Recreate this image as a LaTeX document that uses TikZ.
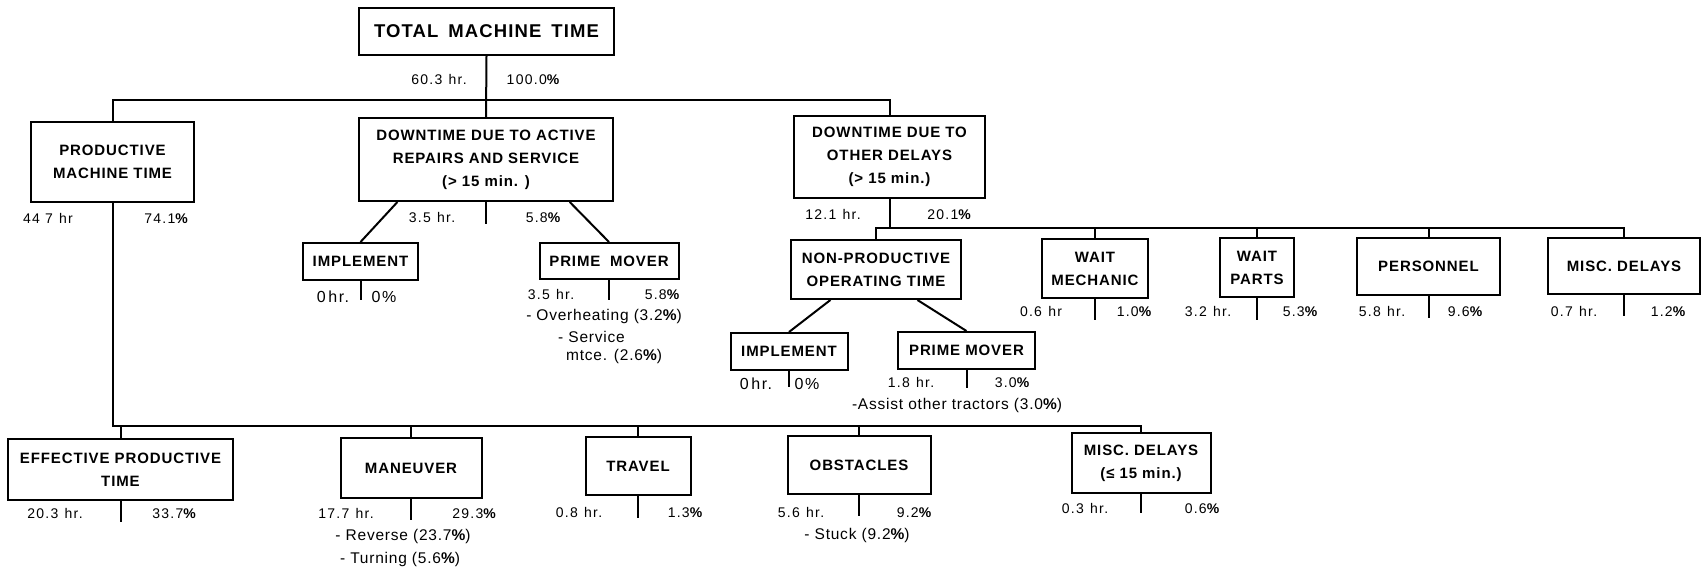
\documentclass[tikz,border=0pt]{standalone}
\usepackage{fontspec}
\setmainfont{Liberation Sans}
\newfontfamily\boxfont{Liberation Sans}[LetterSpace=6]
\newfontfamily\totfont{Liberation Sans}[LetterSpace=6]
\newfontfamily\numfont{Liberation Sans}[LetterSpace=9]
\newfontfamily\descfont{Liberation Sans}[LetterSpace=5]
\usetikzlibrary{calc}
\newcommand\mypc{{\bfseries\%}}
\newcommand\hrgap{\hspace{0.45em}}
\tikzset{
  bx/.style={draw, line width=2pt, inner sep=0pt, align=center,
    font=\boxfont\bfseries\fontsize{15}{23}\selectfont},
  lb/.style={inner sep=0pt, text height=10pt, text depth=3pt,
    font=\numfont\fontsize{14}{18}\selectfont},
  ds/.style={inner sep=0pt, text height=11pt, text depth=3.5pt,
    font=\descfont\fontsize{15.5}{18}\selectfont},
  lbig/.style={lb, font=\numfont\fontsize{16}{20}\selectfont},
  ln/.style={line width=2pt},
}
\begin{document}
\begin{tikzpicture}[x=1pt,y=-1pt]
\useasboundingbox (0,0) rectangle (1701,571);
% boxes
\node[bx, minimum width=255pt, minimum height=47pt, font=\totfont\bfseries\fontsize{18.5}{23}\selectfont] (total) at (486.5,31.5) {TOTAL\hspace{0.2em} MACHINE\hspace{0.2em} TIME};
\node[bx, minimum width=163pt, minimum height=80pt] (prod) at (112.5,162) {PRODUCTIVE\\MACHINE TIME};
\node[bx, minimum width=254pt, minimum height=83pt] (active) at (486,159.5) {DOWNTIME DUE TO ACTIVE\\REPAIRS AND SERVICE\\(> 15 min. )};
\node[bx, minimum width=191pt, minimum height=82pt] (other) at (889.5,157) {DOWNTIME DUE TO\\OTHER DELAYS\\(> 15 min.)};
\node[bx, minimum width=115pt, minimum height=37pt] (impl1) at (360.5,261.5) {IMPLEMENT};
\node[bx, minimum width=139pt, minimum height=36pt] (pm1) at (609,261) {PRIME\hspace{0.3em} MOVER};
\node[bx, minimum width=170pt, minimum height=59pt] (nonprod) at (876,269.5) {NON-PRODUCTIVE\\OPERATING TIME};
\node[bx, minimum width=106pt, minimum height=59pt] (waitmech) at (1095,268.5) {WAIT\\MECHANIC};
\node[bx, minimum width=74pt, minimum height=59pt] (waitparts) at (1257,267.5) {WAIT\\PARTS};
\node[bx, minimum width=143pt, minimum height=57pt] (personnel) at (1428.5,266.5) {PERSONNEL};
\node[bx, minimum width=152pt, minimum height=56pt] (misc1) at (1624,266) {MISC. DELAYS};
\node[bx, minimum width=117pt, minimum height=37pt] (impl2) at (789,351.5) {IMPLEMENT};
\node[bx, minimum width=137pt, minimum height=37pt] (pm2) at (966.5,350.5) {PRIME MOVER};
\node[bx, minimum width=225pt, minimum height=61pt] (eff) at (120.5,469.5) {EFFECTIVE PRODUCTIVE\\TIME};
\node[bx, minimum width=141pt, minimum height=60pt] (maneuver) at (411,468) {MANEUVER};
\node[bx, minimum width=105pt, minimum height=58pt] (travel) at (638,466) {TRAVEL};
\node[bx, minimum width=143pt, minimum height=58pt] (obstacles) at (859,465) {OBSTACLES};
\node[bx, minimum width=139pt, minimum height=60pt] (misc2) at (1141,463) {MISC. DELAYS\\(≤ 15 min.)};
% bus coordinates
\coordinate (bus1) at (486,99.5);
\coordinate (bus2) at (889.5,228);
\coordinate (bus3) at (500,426);
% connectors
\draw[ln] (total.south) -- (active.north);
\draw[ln] (prod.north) |- (bus1) -| (other.north);
\draw[ln] (other.south) -- (bus2);
\draw[ln] (nonprod.north) |- (bus2) -| (misc1.north);
\draw[ln] (waitmech.north) -- (waitmech.north |- bus2);
\draw[ln] (waitparts.north) -- (waitparts.north |- bus2);
\draw[ln] (personnel.north) -- (personnel.north |- bus2);
\draw[ln] (prod.south) |- (bus3) -| (misc2.north);
\draw[ln] (eff.north) -- (eff.north |- bus3);
\draw[ln] (maneuver.north) -- (maneuver.north |- bus3);
\draw[ln] (travel.north) -- (travel.north |- bus3);
\draw[ln] (obstacles.north) -- (obstacles.north |- bus3);
\draw[ln] ($(active.south west)!0.154!(active.south east)$) -- (impl1.north);
\draw[ln] ($(active.south west)!0.827!(active.south east)$) -- (pm1.north);
\draw[ln] ($(nonprod.south west)!0.235!(nonprod.south east)$) -- (impl2.north);
\draw[ln] ($(nonprod.south west)!0.741!(nonprod.south east)$) -- (pm2.north);
% ticks
\coordinate (tActive) at (486,224);
\coordinate (tImpl1) at (360.5,300);
\coordinate (tPm1) at (609,300);
\coordinate (tWm) at (1095,320);
\coordinate (tWp) at (1257,320);
\coordinate (tPers) at (1428.5,318);
\coordinate (tMisc1) at (1624,316);
\coordinate (tImpl2) at (789,387);
\coordinate (tPm2) at (966.5,388);
\coordinate (tEff) at (120.5,522);
\coordinate (tMan) at (411,520);
\coordinate (tTrav) at (638,518);
\coordinate (tObs) at (859,516);
\coordinate (tMisc2) at (1141,513);
\draw[ln] (active.south) -- (tActive);
\draw[ln] (impl1.south) -- (tImpl1);
\draw[ln] (pm1.south) -- (tPm1);
\draw[ln] (waitmech.south) -- (tWm);
\draw[ln] (waitparts.south) -- (tWp);
\draw[ln] (personnel.south) -- (tPers);
\draw[ln] (misc1.south) -- (tMisc1);
\draw[ln] (impl2.south) -- (tImpl2);
\draw[ln] (pm2.south) -- (tPm2);
\draw[ln] (eff.south) -- (tEff);
\draw[ln] (maneuver.south) -- (tMan);
\draw[ln] (travel.south) -- (tTrav);
\draw[ln] (obstacles.south) -- (tObs);
\draw[ln] (misc2.south) -- (tMisc2);
% labels
\node[lb] (a1) at (439,81) {60.3\hrgap hr.};
\node[lb] (a2) at (533,81) {100.0\mypc};
\node[lb] (b1) at (48,220) {44 7\hrgap hr};
\node[lb] (b2) at (166,220) {74.1\mypc};
\node[lb] (c1) at (432,219) {3.5\hrgap hr.};
\node[lb] (c2) at (543,219) {5.8\mypc};
\node[lbig] (d1) at (333,299) {0\,hr.};
\node[lbig] (d2) at (384,299) {0\%};
\node[lb] (e1) at (551,296) {3.5\hrgap hr.};
\node[lb] (e2) at (662,296) {5.8\mypc};
\node[ds] (e3) at (604,317) {- Overheating (3.2\mypc)};
\node[ds, anchor=west] (e4) at (558,339) {- Service};
\node[ds, anchor=west] (e5) at (566,357) {mtce. (2.6\mypc)};
\node[lb] (f1) at (833,216) {12.1\hrgap hr.};
\node[lb] (f2) at (949,216) {20.1\mypc};
\node[lb] (g1) at (1041,313) {0.6\hrgap hr};
\node[lb] (g2) at (1134,313) {1.0\mypc};
\node[lb] (h1) at (1208,313) {3.2\hrgap hr.};
\node[lb] (h2) at (1300,313) {5.3\mypc};
\node[lb] (i1) at (1382,313) {5.8\hrgap hr.};
\node[lb] (i2) at (1465,313) {9.6\mypc};
\node[lb] (j1) at (1574,313) {0.7\hrgap hr.};
\node[lb] (j2) at (1668,313) {1.2\mypc};
\node[lbig] (k1) at (756,386) {0\,hr.};
\node[lbig] (k2) at (807,386) {0\%};
\node[lb] (l1) at (911,384) {1.8\hrgap hr.};
\node[lb] (l2) at (1012,384) {3.0\mypc};
\node[ds] (l3) at (957,406) {-Assist other tractors (3.0\mypc)};
\node[lb] (m1) at (55,515) {20.3\hrgap hr.};
\node[lb] (m2) at (174,515) {33.7\mypc};
\node[lb] (n1) at (346,515) {17.7\hrgap hr.};
\node[lb] (n2) at (474,515) {29.3\mypc};
\node[ds] (n3) at (403,537) {- Reverse (23.7\mypc)};
\node[ds] (n4) at (400,560) {- Turning (5.6\mypc)};
\node[lb] (o1) at (579,514) {0.8\hrgap hr.};
\node[lb] (o2) at (685,514) {1.3\mypc};
\node[lb] (p1) at (801,514) {5.6\hrgap hr.};
\node[lb] (p2) at (914,514) {9.2\mypc};
\node[ds] (p3) at (857,536) {- Stuck (9.2\mypc)};
\node[lb] (q1) at (1085,510) {0.3\hrgap hr.};
\node[lb] (q2) at (1202,510) {0.6\mypc};
\end{tikzpicture}
\end{document}
